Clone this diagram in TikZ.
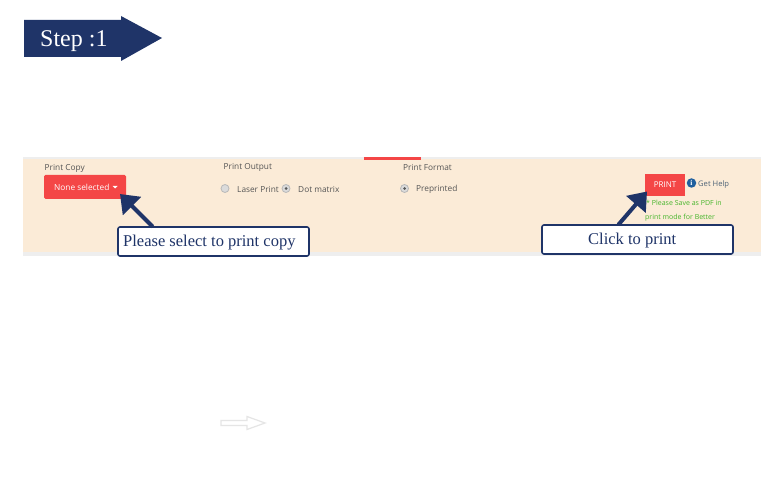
\documentclass[tikz,border=0pt]{standalone}
\usepackage{fontspec}
\setmainfont{Liberation Serif}
\newfontfamily\uifont{Open Sans}
\usetikzlibrary{arrows.meta}
\definecolor{navy}{HTML}{1F3468}
\definecolor{band}{HTML}{FBEBD7}
\definecolor{stripe}{HTML}{EEEEEE}
\definecolor{redbtn}{HTML}{F44646}
\definecolor{uigray}{HTML}{555555}
\definecolor{okgreen}{HTML}{45B52A}
\definecolor{helpblue}{HTML}{1F5F9E}
\definecolor{helpgray}{HTML}{4F6478}
\tikzset{
  x=1pt,y=-1pt,
  uilabel/.style={font=\uifont\fontsize{8.3}{10}\selectfont,text=uigray,inner sep=0pt,anchor=west},
  greennote/.style={font=\uifont\fontsize{7}{9}\selectfont,text=okgreen,inner sep=0pt,anchor=west},
  redbutton/.style={fill=redbtn,text=white,inner sep=0pt,font=\uifont\fontsize{8.3}{10}\selectfont},
  callout/.style={draw=navy,line width=1.6pt,rounded corners=2pt,fill=white,minimum width=191pt,minimum height=29pt},
  callouttext/.style={text=navy,inner sep=0pt,anchor=west,font=\fontsize{16.5}{19}\selectfont},
  pointer/.style={draw=navy,line width=4pt,-{Triangle[length=17pt,width=25pt]},shorten <=-1pt},
  radio/.style={circle,draw=black!28,fill=black!14,minimum size=8pt,inner sep=0pt,line width=0.8pt},
  radiodot/.style={circle,fill=black!65,minimum size=3pt,inner sep=0pt},
}
\begin{document}
\begin{tikzpicture}
\useasboundingbox (0,0) rectangle (780,500);
\fill[white] (0,0) rectangle (780,500);
% step banner
\fill[navy] (24,20) -- (121,20) -- (121,16) -- (162,38) -- (121,61) -- (121,57) -- (24,57) -- cycle;
\node[text=white,font=\fontsize{24}{28}\selectfont,inner sep=0pt,anchor=west] (steptext) at (40,41.5) {Step :1};
% band
\fill[stripe] (23,157) rectangle (761,256);
\fill[band] (23,159) rectangle (761,252);
\fill[redbtn] (364,157) rectangle (421,160);
% print copy
\node[uilabel] (copylabel) at (44.5,168.5) {Print Copy};
\node[redbutton,minimum width=82pt,minimum height=24pt,rounded corners=1.5pt] (none) at (85,187) {};
\node[uilabel,text=white] (nonetext) at (54,187) {None selected};
\fill[white] (112.5,186) -- (117.5,186) -- (115,188.5) -- cycle;
% print output
\node[uilabel] (outputlabel) at (223.5,167.5) {Print Output};
\node[radio] (laser) at (225,188.5) {};
\node[uilabel] (lasertext) at (237,189) {Laser Print};
\node[radio] (dot) at (286,188.5) {};
\node[radiodot] at (dot) {};
\node[uilabel] (dottext) at (298,189) {Dot matrix};
% print format
\node[uilabel] (formatlabel) at (403,167.5) {Print Format};
\node[radio] (pre) at (404.5,188.5) {};
\node[radiodot] at (pre) {};
\node[uilabel] (pretext) at (416,189) {Preprinted};
% print button
\node[redbutton,minimum width=40pt,minimum height=22pt,font=\uifont\fontsize{8}{9}\selectfont] (print) at (665,185) {PRINT};
\node[circle,fill=helpblue,text=white,minimum size=9.5pt,inner sep=0pt,font=\fontsize{7.5}{8}\bfseries\selectfont] (info) at (691.5,183) {i};
\node[uilabel,font=\uifont\fontsize{7.6}{9}\selectfont,text=helpgray] (help) at (698,185) {Get Help};
\node[greennote] (note1) at (646,203) {* Please Save as PDF in};
\node[greennote] (note2) at (645,217.5) {print mode for Better};
% callouts
\node[callout] (sel) at (213.5,241.5) {};
\node[callouttext] (seltext) at (123,243) {Please select to print copy};
\node[callout] (clk) at (637.5,239.5) {};
\node[callouttext] (clktext) at (588,241) {Click to print};
\coordinate (seltail) at (152,226);
\coordinate (clktail) at (619,224);
\coordinate (seltip) at (120,194);
\coordinate (clktip) at (647,191.5);
\draw[pointer] (seltail) -- (seltip);
\draw[pointer] (clktail) -- (clktip);
% faint arrow
\draw[black!10,line width=1.2pt,fill=white] (221,420.5) -- (247,420.5) -- (247,416.5) -- (265,423) -- (247,429.5) -- (247,425.5) -- (221,425.5) -- cycle;
\end{tikzpicture}
\end{document}
